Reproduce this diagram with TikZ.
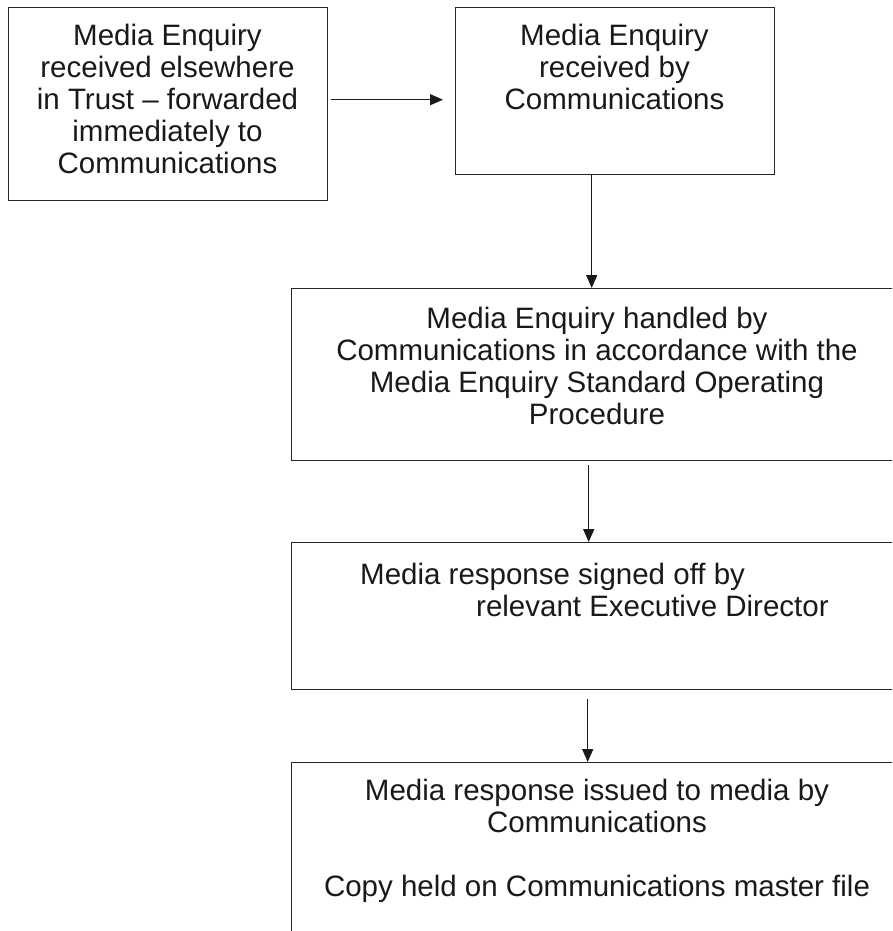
\documentclass[tikz,border=0pt]{standalone}
\usepackage{fontspec}
\setmainfont{Liberation Sans}
\usetikzlibrary{arrows.meta}
\begin{document}
\begin{tikzpicture}[x=1pt,y=1pt,
  box/.style={draw=black!85, line width=1.4pt, inner sep=0pt, anchor=north west},
  txt/.style={inner sep=0pt, font=\fontsize{29.5}{32}\selectfont, text=black!90},
  arr/.style={line width=1.4pt, draw=black!90, -{Triangle[length=13pt,width=11pt]}}]
\useasboundingbox (0,0) rectangle (892,-931);
\clip (0,0) rectangle (892,-931);
% boxes
\node[box, minimum width=319pt, minimum height=193pt] (b1) at (8,-7) {};
\node[box, minimum width=319pt, minimum height=167pt] (b2) at (455,-7) {};
\node[box, minimum width=640pt, minimum height=172pt] (b3) at (291,-288) {};
\node[box, minimum width=640pt, minimum height=147pt] (b4) at (291,-542) {};
\node[box, minimum width=640pt, minimum height=220pt] (b5) at (291,-762) {};
% texts
\node[txt, align=center, anchor=north] (t1) at (167.5,-24) {Media Enquiry\\received elsewhere\\in Trust – forwarded\\immediately to\\Communications};
\node[txt, align=center, anchor=north] (t2) at (614.5,-24) {Media Enquiry\\received by\\Communications};
\node[txt, align=center, anchor=north] (t3) at (597,-307) {Media Enquiry handled by\\Communications in accordance with the\\Media Enquiry Standard Operating\\Procedure};
\node[txt, align=left, anchor=north west] (t4) at (360,-563) {Media response signed off by\\\hspace*{116pt}relevant Executive Director};
\node[txt, align=center, anchor=north] (t5) at (597,-779) {Media response issued to media by\\Communications\\[32pt]Copy held on Communications master file};
% connectors
\draw[arr, shorten <=3pt, shorten >=12pt] ([yshift=4.5pt]b1.east) -- ([yshift=-8.5pt]b2.west);
\draw[arr] ([xshift=-23.5pt]b2.south) -- ([xshift=-20pt]b3.north);
\draw[arr, shorten <=4pt] ([xshift=-23pt]b3.south) -- ([xshift=-23pt]b4.north);
\draw[arr, shorten <=9pt] ([xshift=-24pt]b4.south) -- ([xshift=-24pt]b5.north);
\end{tikzpicture}
\end{document}
